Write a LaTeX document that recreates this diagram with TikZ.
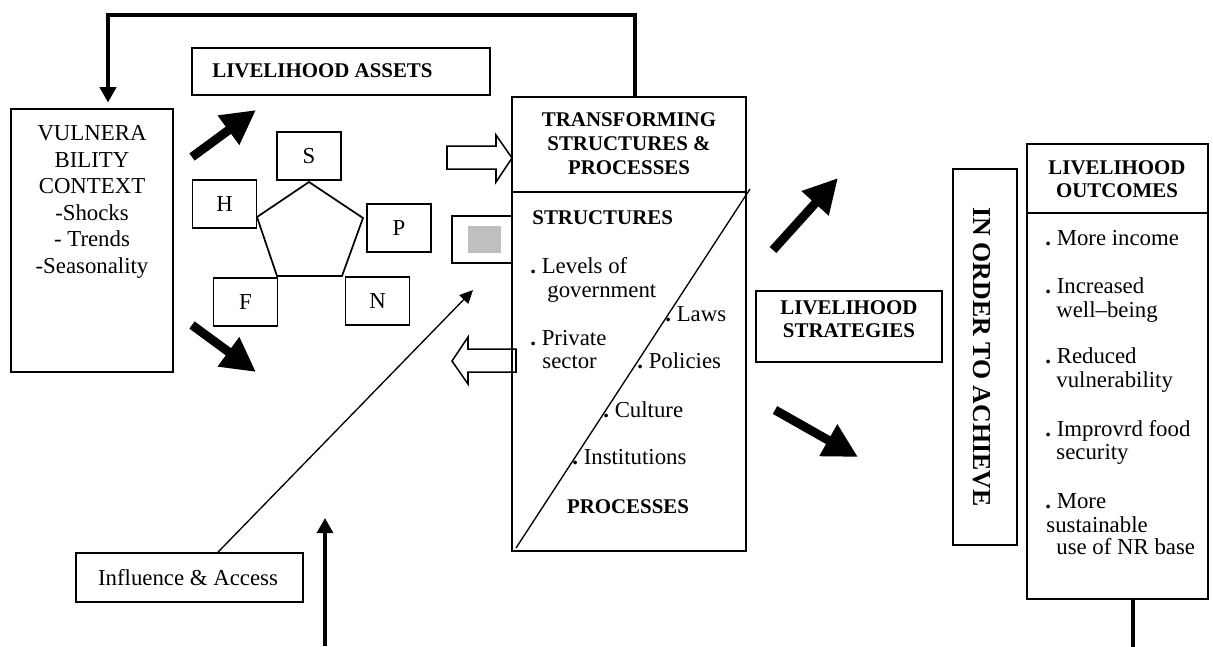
\documentclass[tikz,border=0pt]{standalone}
\usepackage{fontspec}
\setmainfont{Liberation Serif}
\usetikzlibrary{arrows.meta,fit}

\definecolor{shadegray}{HTML}{BFBFBF}

\tikzset{
  frame/.style={draw, line width=0.9pt, inner sep=0pt},
  asset/.style={draw, line width=0.9pt, minimum width=1.18cm, minimum height=0.89cm,
    inner sep=0pt, font=\fontsize{12}{14}\selectfont},
  txt/.style={inner sep=0pt, font=\fontsize{12}{14}\selectfont},
  heading/.style={inner sep=0pt, font=\fontsize{11}{12.6}\selectfont\bfseries},
  bigarrow/.style={line width=4.7pt, -{Triangle[length=18pt,width=18pt]}},
  linkarrow/.style={line width=1.8pt, -{Triangle[length=8pt,width=8.5pt]}},
  thinarrow/.style={line width=0.7pt, -{Triangle[length=7pt,width=6.5pt]}},
  hollow/.style={draw, line width=0.8pt},
}

\begin{document}
\begin{tikzpicture}[x=0.0185cm, y=-0.0185cm]
    \useasboundingbox (0,0) rectangle (1213,646);

    % Vulnerability context (left)
    \node[frame, fit={(11,109) (173,372)}] (vuln) {};
    \node[txt, align=center, anchor=north] (vulntxt) at (92,125)
      {VULNERA\\BILITY\\CONTEXT\\-Shocks\\- Trends\\-Seasonality};

    % Livelihood assets + pentagon
    \node[frame, fit={(192,48) (490,95)}] (assets) {};
    \node[heading, anchor=base west] (assetstxt) at (212,77) {LIVELIHOOD ASSETS};
    \coordinate (p1) at (309,182); \coordinate (p2) at (363,218);
    \coordinate (p3) at (342,276); \coordinate (p4) at (277,276);
    \coordinate (p5) at (257,217);
    \draw[line width=0.9pt] (p1)--(p2)--(p3)--(p4)--(p5)--cycle;
    \foreach \x/\y/\c in {309/156/S, 224.5/204/H, 399/228/P, 245.5/302/F, 377.5/301/N}
      \node[asset] (\c) at (\x,\y) {\c};

    % Transforming structures & processes (middle)
    \node[frame, fit={(512,97) (746,551)}] (trans) {};
    \coordinate (tdiv) at (0,192);
    \draw[line width=0.9pt] (trans.west |- tdiv) -- (trans.east |- tdiv);
    \node[heading, align=center, anchor=north] (transtxt) at (629,112)
      {TRANSFORMING\\STRUCTURES \&\\PROCESSES};
    \draw[line width=0.7pt] (750,189) -- (516,548);
    \node[heading, anchor=base west] (struct) at (532,224) {STRUCTURES};
    \node[heading, anchor=base] (proc) at (628,513) {PROCESSES};
    \foreach \x/\y/\t [count=\i] in {530/273/{\textbf{.}~Levels of}, 547/297/government,
        665/321/{\textbf{.}~Laws}, 530/345/{\textbf{.}~Private}, 542/368/sector,
        637/368/{\textbf{.}~Policies}, 603/417/{\textbf{.}~Culture},
        572/464/{\textbf{.}~Institutions}}
      \node[txt, anchor=base west] (tsp\i) at (\x,\y) {\t};

    % small box with the grey square
    \node[frame, fit={(452,216) (512,263)}] (gbox) {};
    \fill[shadegray] (468,226) rectangle (501,253);

    % hollow arrows in and out of the middle box
    \draw[hollow] (447,146) -- (496,146) -- (496,135) -- (512,158) -- (496,182)
      -- (496,169) -- (447,169) -- cycle;
    \draw[hollow] (516,349) -- (468,349) -- (468,337) -- (452,361) -- (468,384)
      -- (468,372) -- (516,372) -- cycle;

    % thick black arrows
    \coordinate (a1s) at (192,157); \coordinate (a1e) at (256,110);
    \coordinate (a2s) at (192,325); \coordinate (a2e) at (256,372);
    \coordinate (a3s) at (773,250); \coordinate (a3e) at (838,178);
    \coordinate (a4s) at (775,410); \coordinate (a4e) at (858,457);
    \foreach \a in {1,2,3,4} \draw[bigarrow] (a\a s) -- (a\a e);

    % feedback line over the top
    \coordinate (fbL) at (108,15); \coordinate (fbR) at (635,15);
    \draw[linkarrow, shorten >=3pt] (trans.north -| fbR) -- (fbR) -- (fbL) -- (vuln.north -| fbL);

    % Influence & access
    \node[frame, fit={(76,553) (303,602)}] (infl) {};
    \node[txt, anchor=base] (infltxt) at (188,585) {Influence \& Access};
    \coordinate (inflTip) at (473,290);
    \draw[thinarrow] ([xshift=15pt]infl.north) -- (inflTip);
    \coordinate (botS) at (325,646); \coordinate (botE) at (325,518);
    \draw[linkarrow] (botS) -- (botE);

    % Strategies, in order to achieve, outcomes (right)
    \node[frame, fit={(756,291) (942,362)}, heading, align=center,
      font=\fontsize{11}{12.1}\selectfont\bfseries] (strat) {LIVELIHOOD\\STRATEGIES};
    \node[frame, fit={(953,169) (1017,545)}] (order) {};
    \node[inner sep=0pt, rotate=-90, font=\fontsize{13.6}{15}\selectfont\bfseries]
      (ordertxt) at (982,357) {IN ORDER TO ACHIEVE};
    \node[frame, fit={(1027,144) (1208,599)}] (outc) {};
    \coordinate (odiv) at (0,213);
    \draw[line width=0.9pt] (outc.west |- odiv) -- (outc.east |- odiv);
    \node[heading, align=center, anchor=north,
      font=\fontsize{11}{12.1}\selectfont\bfseries] (outctxt) at (1117,160) {LIVELIHOOD\\OUTCOMES};
    \foreach \x/\y/\t [count=\i] in {1045/245/{\textbf{.}~More income},
        1045/293/{\textbf{.}~Increased}, 1056/317/well–being,
        1045/363/{\textbf{.}~Reduced}, 1056/387/vulnerability,
        1045/436/{\textbf{.}~Improvrd food}, 1056/459/security,
        1045/508/{\textbf{.}~More}, 1046/532/sustainable, 1056/554/{use of NR base}}
      \node[txt, anchor=base west] (out\i) at (\x,\y) {\t};
    \draw[line width=1.8pt] ([xshift=8.2pt]outc.south) -- ++(0,47);
\end{tikzpicture}
\end{document}
